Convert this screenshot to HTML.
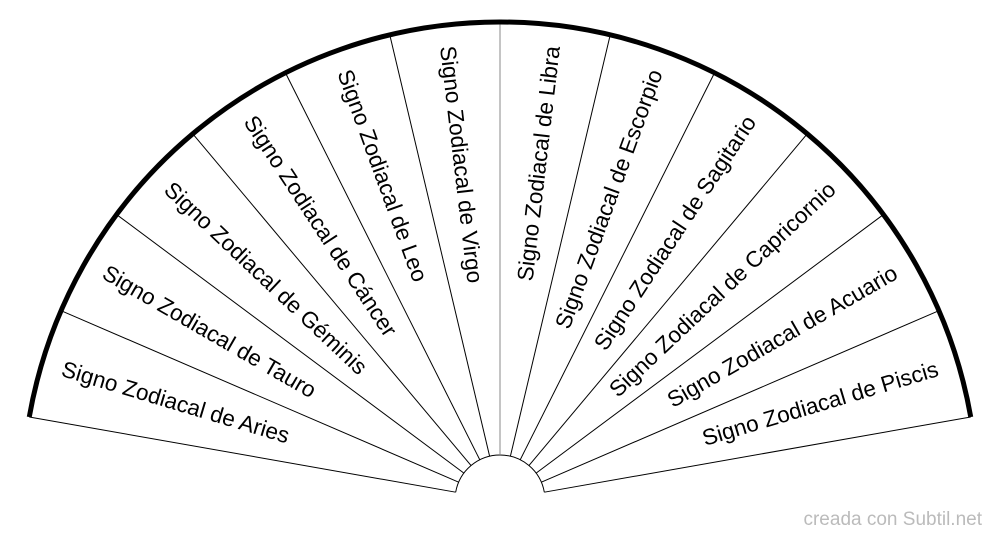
<!DOCTYPE html>
<html><head><meta charset="utf-8"><style>
html,body{margin:0;padding:0;background:#fff;width:1000px;height:540px;overflow:hidden}
svg{display:block}
</style></head><body>
<svg id="s" width="1000" height="540" viewBox="0 0 1000 540" xmlns="http://www.w3.org/2000/svg" font-family="Liberation Sans, Arial, sans-serif">
<g id="g"></g>
<text x="982" y="525" font-size="19" fill="#bbb" text-anchor="end">creada con Subtil.net</text>
</svg>
<script>
var cx=500,cy=500,R=478,r=45;
var names=["Aries","Tauro","Géminis","Cáncer","Leo","Virgo","Libra","Escorpio","Sagitario","Capricornio","Acuario","Piscis"];
var g=document.getElementById('g'),h="";
function p(rad,deg){var a=deg*Math.PI/180;return [(cx+rad*Math.cos(a)).toFixed(2),(cy-rad*Math.sin(a)).toFixed(2)];}
h+='<path d="M'+p(r,10).join(' ')+' A'+r+' '+r+' 0 0 0 '+p(r,170).join(' ')+'" fill="none" stroke="#000" stroke-width="1"/>';
for(var i=0;i<=12;i++){var d=10+i*160/12;var a=p(r,d),b=p(R,d);
h+='<line x1="'+a[0]+'" y1="'+a[1]+'" x2="'+b[0]+'" y2="'+b[1]+'" stroke="'+(i==6?'#888':'#000')+'" stroke-width="1"/>';}
h+='<path d="M'+p(R,170).join(' ')+' A'+R+' '+R+' 0 0 1 '+p(R,10).join(' ')+'" fill="none" stroke="#000" stroke-width="5"/>';
for(var i=0;i<12;i++){var th=170-(i+0.5)*160/12;var q=p(457,th);var rot,anc;
if(th>90){rot=180-th;anc="start";}else{rot=-th;anc="end";}
h+='<text x="'+q[0]+'" y="'+q[1]+'" dy="7" font-size="22.5" text-anchor="'+anc+'" transform="rotate('+rot.toFixed(2)+' '+q[0]+' '+q[1]+')">Signo Zodiacal de '+names[i]+'</text>';}
g.innerHTML=h;
</script>
</body></html>
